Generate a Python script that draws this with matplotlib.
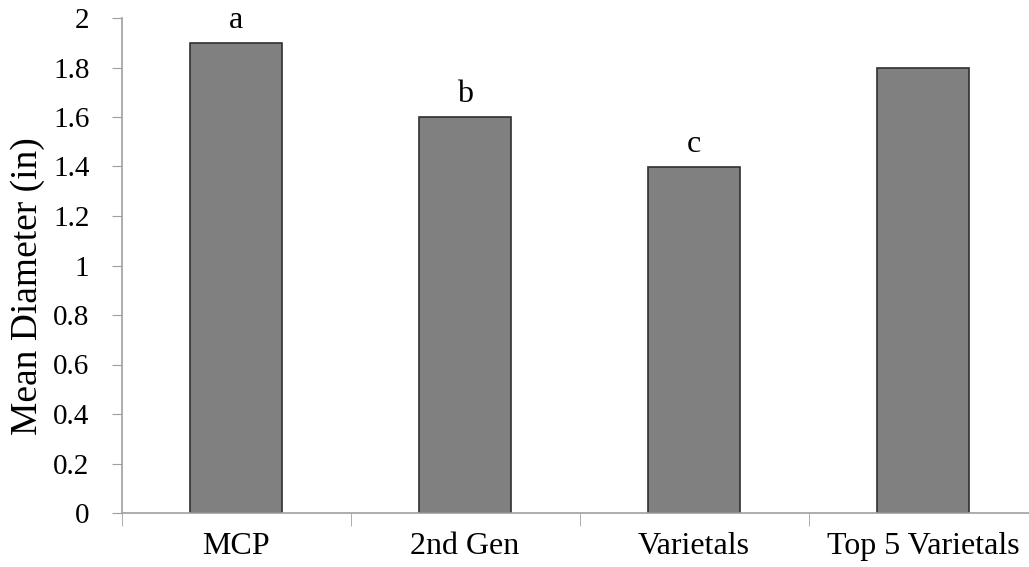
import matplotlib.pyplot as plt
import numpy as np

# data
groups = ["MCP", "2nd Gen", "Varietals", "Top 5 Varietals"]
mean_diam = [1.9, 1.6, 1.4, 1.8]
letters = ["a", "b", "c", ""]

plt.rcParams['font.family'] = ['Liberation Serif', 'DejaVu Serif']

fig = plt.figure(figsize=(10.29, 5.67), dpi=100)
# axes runs a bit past the right edge, like the original
ax = fig.add_axes([121.5 / 1029, 54 / 567, 916 / 1029, 495 / 567])

x = np.arange(len(groups))
ax.bar(x, mean_diam, width=0.40, color="#808080", edgecolor="#303030", linewidth=1.2)

for xi, v, lab in zip(x, mean_diam, letters):
    if lab:
        ax.text(xi, v + 0.06, lab, ha="center", va="baseline", fontsize=23)

ax.set_xlim(-0.5, len(groups) - 0.5)
ax.set_ylim(0, 2)
ax.set_yticks(np.arange(0, 2.01, 0.2))
ax.set_yticklabels(["0", "0.2", "0.4", "0.6", "0.8", "1", "1.2", "1.4", "1.6", "1.8", "2"])
ax.set_xticks(x)
ax.set_xticklabels(groups)
ax.set_xticks(np.arange(-0.5, len(groups)), minor=True)

ax.tick_params(axis="y", direction="out", length=7, color="#a0a0a0", labelsize=21, pad=16)
ax.tick_params(axis="x", which="major", length=0, labelsize=23, pad=14)
ax.tick_params(axis="x", which="minor", direction="out", length=9, color="#a0a0a0")

for s in ["top", "right"]:
    ax.spines[s].set_visible(False)
for s in ["left", "bottom"]:
    ax.spines[s].set_color("#a0a0a0")
    ax.spines[s].set_linewidth(1.2)

fig.text(28 / 1029, 1 - 286 / 567, "Mean Diameter (in)", rotation=90,
         ha="center", va="center", fontsize=27)

fig.savefig("out.png", dpi=100)
